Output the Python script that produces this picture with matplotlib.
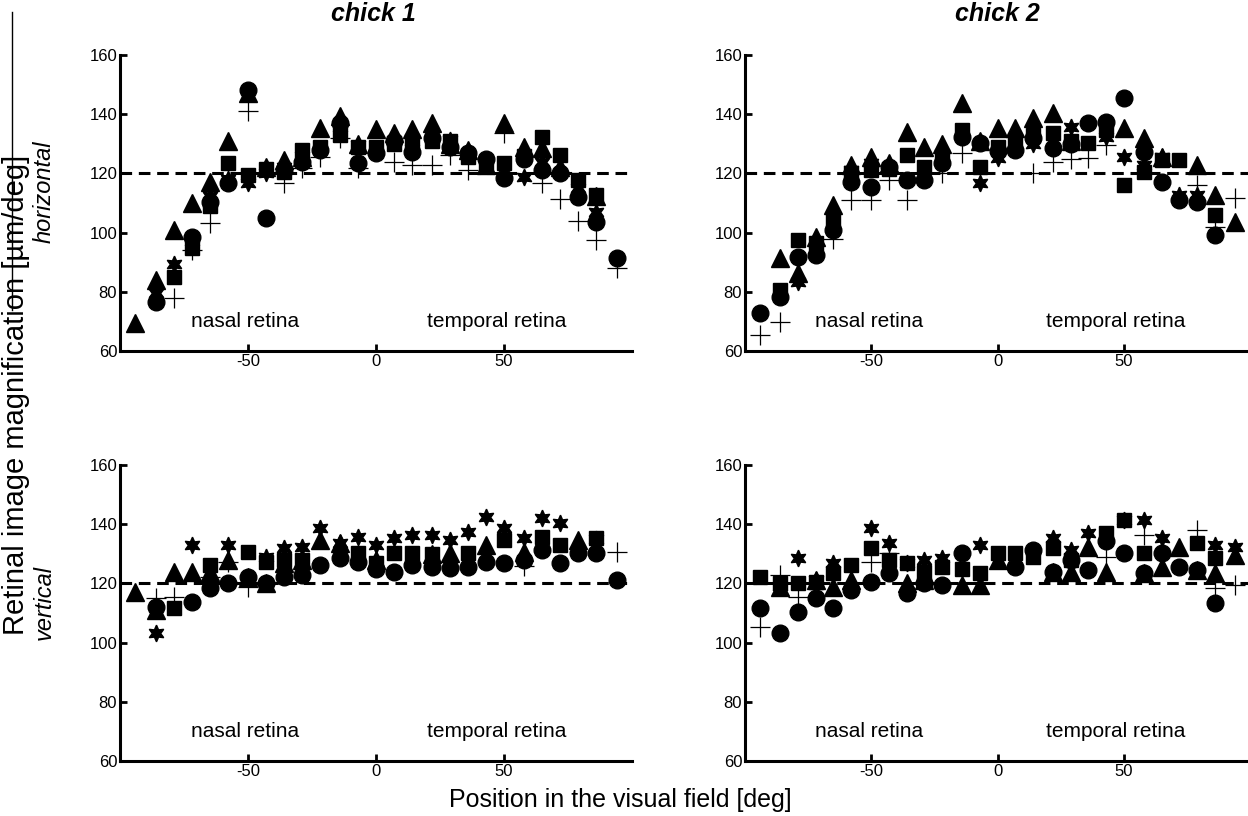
import numpy as np
import matplotlib
matplotlib.use("Agg")
import matplotlib.pyplot as plt
from matplotlib.lines import Line2D

plt.rcParams['font.family'] = ['Liberation Sans', 'DejaVu Sans']
plt.rcParams['axes.unicode_minus'] = False

nan = np.nan
positions = [-94, -86, -79, -72, -65, -58, -50, -43, -36, -29, -22, -14, -7, 0,
             7, 14, 22, 29, 36, 43, 50, 58, 65, 72, 79, 86, 94]

# chick 1 horizontal
h1_tri = [69.6, 84, 101, 110, 117, 131, 147, 122, 124.5, 125.5, 135.5, 139.5, 130, 135,
          133.5, 135, 137, 130, 128, 123, 137, 129, 128.5, 122, nan, 112.5, nan]
h1_sq = [nan, nan, 85, 94.7, 109, 123.6, 119.5, 121.5, 120.5, 128, 129, 133, 129, 129,
         130, 131, 131, 131, 125.6, 122.8, 123.4, 126, 132.4, 126.2, 117.8, 112.7, nan]
h1_circ = [nan, 76.7, nan, 98.4, 110.5, 116.6, 148.2, 104.8, 121, 124, 128, 137, 123.4, 126.8,
           131, 127.3, 132, 129, 127, 125, 118.3, 125, 121, 120, 112, 103.7, 91.3]
h1_star = [nan, 79.5, 89.4, 97, 112.5, 118, 116.6, 120, 122, 126, nan, 135.8, 129.6, nan,
           131.3, 131, nan, 131.3, 127, nan, nan, 118.9, 124, nan, 115, 107, nan]
h1_plus = [nan, nan, 77.8, 94, 103.4, nan, 141.1, nan, 116.9, 121.7, 125.6, 131.8, 121.7, nan,
           124, 123, 122.8, 126.2, 121.1, nan, 133.5, nan, 116.6, 111.2, 103.9, 97.5, 88]

# chick 2 horizontal
h2_tri = [nan, 91.3, 86.2, 98.6, 109.3, 122.8, 125.6, 123.4, 134.1, 129, 130, 143.7, 131, 135.2,
          135.2, 138.6, 140.3, 131, nan, nan, 135.2, 131.8, 125.6, nan, 122.8, 112.7, 103.7]
h2_sq = [nan, 80.6, 97.5, 96.4, 104.3, 120, 121, 121.5, 126.2, 122.3, 126, 134.7, 122.3, 129,
         130, 133, 133.5, 131, 130.2, 134.7, 116.1, 120.6, 124.5, 124.5, nan, 106, nan]
h2_circ = [72.7, 78.4, 91.9, 92.4, 100.9, 117.2, 115.5, 122.3, 117.8, 117.8, 123.4, 132.4, 130.2, 127.5,
           128, 132, 128.5, 130, 136.9, 137.5, 145.4, 127.3, 117.2, 111, 110.5, 99.3, nan]
h2_star = [nan, nan, 83.4, 94, nan, 121, 123.4, nan, nan, nan, 126, nan, 116.7, 125.1,
           nan, 130, nan, 135.8, nan, 132.4, 125.6, 122.8, 125.6, 112.7, 112.7, nan, nan]
h2_plus = [65.4, 69.8, nan, nan, 98, 111, 111, 117.8, 111, nan, 120, 126.8, nan, nan,
           nan, 120, 124, 125, 125.1, 129.6, nan, nan, nan, nan, 116.1, 102, 111.6]

# chick 1 vertical
v1_tri = [117.2, 111, 124, 124, 124, 128, 122.3, 120, 127, 128, 134.7, 133.5, nan, 128,
          nan, nan, 130, 130.2, nan, 133, nan, 130.7, nan, nan, 134.7, nan, nan]
v1_sq = [nan, nan, 111.6, nan, 126.2, nan, 130.7, 127.3, 128, 128, nan, nan, 130.2, 126.8,
         130.2, 130.2, 130, nan, 130.2, nan, 134.7, nan, 135.8, 133, nan, 135.2, nan]
v1_circ = [nan, 112.1, nan, 113.8, 118.3, 120, 122.3, 120, 122.3, 122.8, 126.2, 128.5, 127.3, 125,
           124, 126.2, 125.7, 125.1, 125.7, 127.3, 126.8, 127.9, 131.3, 126.8, 130.2, 130.2, 121.1]
v1_star = [nan, 103.1, nan, 133, nan, 133, nan, 129, 131.8, 132.4, 138.6, 133.5, 135.8, 133,
           135.2, 136.4, 136.4, 134.7, 137.5, 142.5, 138.6, 135.2, 142, 140.3, nan, 135, nan]
v1_plus = [nan, 115, 115.5, nan, 122.3, 127.3, 118.9, nan, nan, nan, nan, nan, nan, nan,
           nan, nan, nan, nan, nan, nan, nan, 126, nan, nan, nan, nan, 130.7]

# chick 2 vertical
v2_tri = [nan, 118.9, nan, 121.1, 118.9, 121.1, nan, nan, 120, 121, nan, 119.4, 119.4, 128,
          nan, nan, 124, 124, 132.4, 124, nan, 123.4, 125.7, 132.4, 124.5, 123.4, 129.6]
v2_sq = [122.3, 120, 120, 120.5, 123.4, 126.2, 131.8, 127.9, 126.8, 124, 125.7, 125, 123.4, 130.2,
         130.2, 129, 131.8, 127.9, nan, 136.9, 141.4, 130.2, nan, nan, 133.5, 128.5, nan]
v2_circ = [111.6, 103.1, 110.5, 115, 111.6, 117.8, 120.6, 123.4, 116.6, 120, 119.4, 130.2, nan, nan,
           125.7, 131.3, 124, 127.9, 124.5, 134.2, 130.2, 123.4, 130.2, 125.7, 124.5, 113.3, nan]
v2_star = [nan, 119, 128.5, 121.1, 126.8, nan, 138.6, 133.5, 126.8, 127.9, 128.5, nan, 133, nan,
           nan, nan, 135.2, 131.3, 136.9, nan, 141.4, 141.4, 135.2, nan, nan, 133, 132.4]
v2_plus = [105.4, 122.8, 115.5, nan, nan, nan, 127.3, 130.2, nan, nan, nan, nan, nan, nan,
           nan, nan, nan, nan, nan, 129, nan, 136.4, nan, nan, 138, 118.3, 119.4]

yticks = [60, 80, 100, 120, 140, 160]
xticks = [-50, 0, 50]
reference_level = 120

W, H = 1248, 816
fig = plt.figure(figsize=(W / 100, H / 100), dpi=100)

def px_axes(l, r, t, b):
    return fig.add_axes([l / W, 1 - b / H, (r - l) / W, (b - t) / H])

ax_h1 = px_axes(120, 632, 55, 351)
ax_h2 = px_axes(745, 1250, 55, 351)
ax_v1 = px_axes(120, 632, 465, 761)
ax_v2 = px_axes(745, 1250, 465, 761)

panels = [
    (ax_h1, h1_tri, h1_sq, h1_circ, h1_star, h1_plus),
    (ax_h2, h2_tri, h2_sq, h2_circ, h2_star, h2_plus),
    (ax_v1, v1_tri, v1_sq, v1_circ, v1_star, v1_plus),
    (ax_v2, v2_tri, v2_sq, v2_circ, v2_star, v2_plus),
]

for ax, tri, sq, circ, star, plus in panels:
    ax.axhline(reference_level, color='black', lw=2.2, ls=(0, (3.8, 2.2)), zorder=1)
    ax.plot(positions, tri, ls='none', marker='^', ms=13.5, color='black', zorder=3)
    ax.plot(positions, sq, ls='none', marker='s', ms=10.5, color='black', zorder=3)
    ax.plot(positions, circ, ls='none', marker='o', ms=12, color='black', zorder=3)
    ax.plot(positions, star, ls='none', marker=(6, 1, 0), ms=12, color='black', zorder=3)
    ax.plot(positions, plus, ls='none', marker='+', ms=14, mew=0.9, color='black', zorder=4)
    ax.set_xlim(-100, 100)
    ax.set_ylim(60, 160)
    ax.set_xticks(xticks)
    ax.set_yticks(yticks)
    ax.spines['top'].set_visible(False)
    ax.spines['right'].set_visible(False)
    for s in ('left', 'bottom'):
        ax.spines[s].set_linewidth(2.2)
    ax.tick_params(direction='in', length=5, width=2, labelsize=12, pad=2)
    ax.text(-51, 70, 'nasal retina', ha='center', va='center', fontsize=15)
    ax.text(47, 70, 'temporal retina', ha='center', va='center', fontsize=15)
    ax.patch.set_alpha(0)

fig.text(373 / W, 1 - 14 / H, 'chick 1', fontsize=18, fontweight='bold', fontstyle='italic',
         ha='center', va='center')
fig.text(997 / W, 1 - 14 / H, 'chick 2', fontsize=18, fontweight='bold', fontstyle='italic',
         ha='center', va='center')

fig.text(44 / W, 1 - 192 / H, 'horizontal', rotation=90, fontstyle='italic',
         fontsize=17, ha='center', va='center')
fig.text(44 / W, 1 - 602 / H, 'vertical', rotation=90, fontstyle='italic',
         fontsize=17, ha='center', va='center')
fig.text(16 / W, 1 - 395 / H, 'Retinal image magnification [\u00b5m/deg]', rotation=90,
         fontsize=21, ha='center', va='center')
fig.text(620 / W, 1 - 800 / H, 'Position in the visual field [deg]',
         fontsize=18, ha='center', va='center')
fig.add_artist(Line2D([12 / W, 12 / W], [1 - 12 / H, 1 - 310 / H], color='black', lw=1))

fig.savefig('out.png', dpi=100)
